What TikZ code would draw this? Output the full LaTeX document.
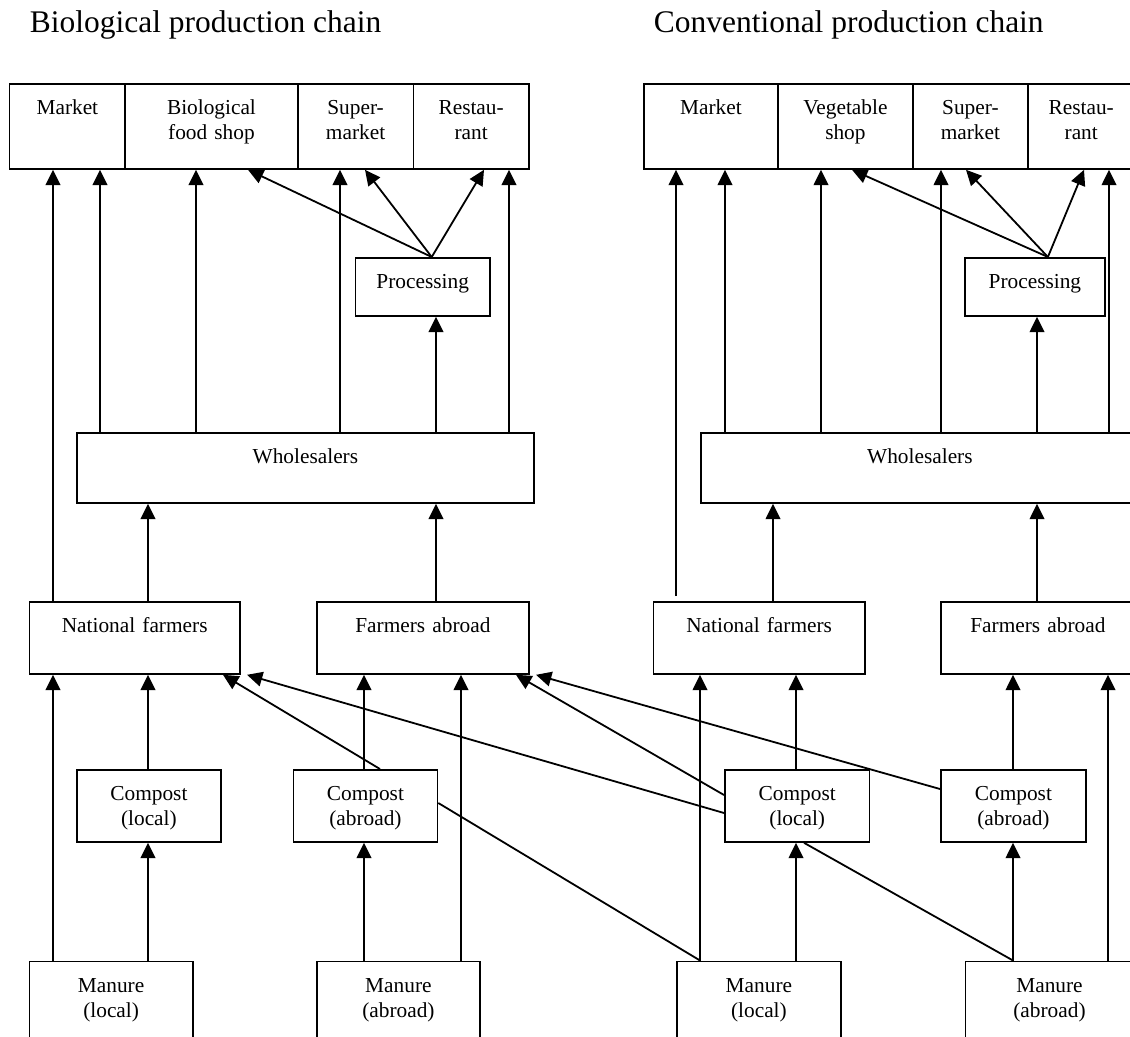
\documentclass[tikz,border=0pt]{standalone}
\usepackage{fontspec}
\setmainfont{Liberation Serif}
\usetikzlibrary{arrows.meta}

\tikzset{every picture/.style={line width=1.35pt}}
\tikzset{
  blk/.style={draw, rectangle, inner sep=0pt, anchor=north west, align=center,
    text height=23.25pt, font=\fontsize{16}{18.75}\selectfont},
  toprow/.style={text depth=40.5pt},
  procbox/.style={text depth=20.25pt},
  wholebox/.style={text depth=29.25pt},
  midbox/.style={text depth=30.75pt},
  basebox/.style={text depth=44.25pt},
  ttl/.style={anchor=base west, inner sep=0pt, font=\fontsize{23.6}{28}\selectfont},
  flow/.style={-{Triangle[length=11.5pt,width=11pt]}},
}

\begin{document}
\begin{tikzpicture}[x=0.75pt,y=0.75pt,yscale=-1,xscale=1]
        \useasboundingbox (0,0) rectangle (1130,1037);
        \clip (0,0) rectangle (1130,1037);

        % Text Node
        \node [ttl] (tbio) at (29,33) {Biological production chain};
        % Text Node
        \node [ttl] (tconv) at (653,33) {Conventional production chain};

        %Shape: Rectangle [biological chain]
        \node [blk, toprow, text width=86.8pt] (bmarket) at (8.6,83) {Market};
        \node [blk, toprow, text width=129.4pt] (bfood) at (124.3,83) {Biological\\food shop};
        \node [blk, toprow, text width=86.8pt] (bsuper) at (296.8,83) {Super-\\market};
        \node [blk, toprow, text width=86.6pt] (brest) at (412.5,83) {Restau-\\rant};
        \node [blk, procbox, text width=100.8pt] (bproc) at (354.6,257) {Processing};
        \node [blk, wholebox, text width=342.75pt] (bwhole) at (76,432) {Wholesalers};
        \node [blk, midbox, text width=157.8pt] (bnat) at (28.6,601) {National farmers};
        \node [blk, midbox, text width=159pt] (bfab) at (316,601) {Farmers abroad};
        \node [blk, midbox, text width=108pt] (bcloc) at (76,769) {Compost\\(local)};
        \node [blk, midbox, text width=108pt] (bcab) at (292.5,769) {Compost\\(abroad)};
        \node [blk, basebox, text width=122.6pt] (bmloc) at (28.5,960.5) {Manure\\(local)};
        \node [blk, basebox, text width=122.25pt] (bmab) at (316,960.5) {Manure\\(abroad)};

        %Shape: Rectangle [conventional chain]
        \node [blk, toprow, text width=100.5pt] (cmarket) at (643,83) {Market};
        \node [blk, toprow, text width=101.25pt] (cveg) at (777,83) {Vegetable\\shop};
        \node [blk, toprow, text width=86.25pt] (csuper) at (912,83) {Super-\\market};
        \node [blk, toprow, text width=80pt] (crest) at (1027,83) {Restau-\\rant};
        \node [blk, procbox, text width=105pt] (cproc) at (964,257) {Processing};
        \node [blk, wholebox, text width=328.5pt] (cwhole) at (700,432) {Wholesalers};
        \node [blk, midbox, text width=158.6pt] (cnat) at (652.5,601) {National farmers};
        \node [blk, midbox, text width=145.5pt] (cfab) at (940,601) {Farmers abroad};
        \node [blk, midbox, text width=108.5pt] (ccloc) at (724,769) {Compost\\(local)};
        \node [blk, midbox, text width=108.75pt] (ccab) at (940,769) {Compost\\(abroad)};
        \node [blk, basebox, text width=123pt] (cmloc) at (676,960.5) {Manure\\(local)};
        \node [blk, basebox, text width=126pt] (cmab) at (964.6,960.5) {Manure\\(abroad)};

        %Straight Lines [biological, upper part]
        \draw [flow] (bnat.north -| 53,0) -- (bmarket.south -| 53,0);
        \draw [flow] (bwhole.north -| 100,0) -- (bmarket.south -| 100,0);
        \draw [flow] (bwhole.north -| 196,0) -- (bfood.south -| 196,0);
        \draw [flow] (bwhole.north -| 340,0) -- (bsuper.south -| 340,0);
        \draw [flow] (bwhole.north -| 436,0) -- (bproc.south -| 436,0);
        \draw [flow] (bwhole.north -| 509,0) -- (brest.south -| 509,0);
        \coordinate (bpt) at ([xshift=6.75pt]bproc.north);
        \draw [flow] (bpt) -- (bfood.south -| 248,0);
        \draw [flow] (bpt) -- (bsuper.south -| 365,0);
        \draw [flow] (bpt) -- (brest.south -| 484,0);
        \draw [flow] (bnat.north -| 148,0) -- (bwhole.south -| 148,0);
        \draw [flow] (bfab.north -| 436,0) -- (bwhole.south -| 436,0);

        %Straight Lines [biological, lower part]
        \draw [flow] (bmloc.north -| 53,0) -- (bnat.south -| 53,0);
        \draw [flow] (bmloc.north -| 148,0) -- (bcloc.south -| 148,0);
        \draw [flow] (bcloc.north -| 148,0) -- (bnat.south -| 148,0);
        \draw [flow] (bmab.north -| 364,0) -- (bcab.south -| 364,0);
        \draw [flow] (bcab.north -| 364,0) -- (bfab.south -| 364,0);
        \draw [flow] (bmab.north -| 461,0) -- (bfab.south -| 461,0);

        %Straight Lines [conventional, upper part]
        \draw [flow, shorten <=3.75pt] (cnat.north -| 676,0) -- (cmarket.south -| 676,0);
        \draw [flow] (cwhole.north -| 725,0) -- (cmarket.south -| 725,0);
        \draw [flow] (cwhole.north -| 821,0) -- (cveg.south -| 821,0);
        \draw [flow] (cwhole.north -| 941,0) -- (csuper.south -| 941,0);
        \draw [flow] (cwhole.north -| 1037,0) -- (cproc.south -| 1037,0);
        \draw [flow] (cwhole.north -| 1109,0) -- (crest.south -| 1109,0);
        \coordinate (cpt) at ([xshift=9.75pt]cproc.north);
        \draw [flow] (cpt) -- (cveg.south -| 852,0);
        \draw [flow] (cpt) -- (csuper.south -| 966,0);
        \draw [flow] (cpt) -- (crest.south -| 1084,0);
        \draw [flow] (cnat.north -| 773,0) -- (cwhole.south -| 773,0);
        \draw [flow] (cfab.north -| 1037,0) -- (cwhole.south -| 1037,0);

        %Straight Lines [conventional, lower part]
        \draw [flow] (cmloc.north -| 700,0) -- (cnat.south -| 700,0);
        \draw [flow] (cmloc.north -| 796,0) -- (ccloc.south -| 796,0);
        \draw [flow] (ccloc.north -| 796,0) -- (cnat.south -| 796,0);
        \draw [flow] (cmab.north -| 1013,0) -- (ccab.south -| 1013,0);
        \draw [flow] (ccab.north -| 1013,0) -- (cfab.south -| 1013,0);
        \draw [flow] (cmab.north -| 1108,0) -- (cfab.south -| 1108,0);

        %Straight Lines [between the chains]
        \draw [flow] (bcab.north -| 380,0) -- (bnat.south -| 223,0);
        \draw [flow] (ccloc.west |- 0,813) -- (bnat.south -| 247,0);
        \draw [flow] (ccloc.west |- 0,795) -- (bfab.south -| 516,0);
        \draw [flow] (ccab.west |- 0,789) -- (bfab.south -| 536,0);
        \draw (bcab.east |- 0,803) -- (cmloc.north -| 700,0);
        \draw (ccloc.south -| 804,0) -- (cmab.north -| 1013,0);

\end{tikzpicture}
\end{document}
